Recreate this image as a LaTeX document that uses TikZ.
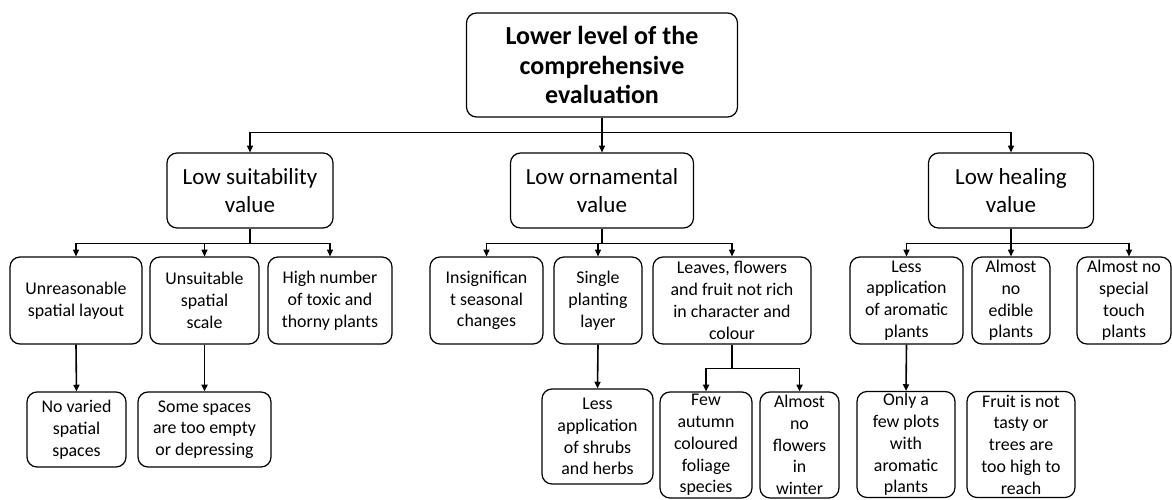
\documentclass[tikz,border=0pt]{standalone}
\usepackage{fontspec}
\setmainfont{Carlito}
\usetikzlibrary{arrows.meta}
\begin{document}
\begin{tikzpicture}[x=0.75pt,y=-0.75pt,
  box/.style={draw,line width=0.9pt,rounded corners=7.5pt,inner sep=0pt,align=center},
  rootbox/.style={box,font=\fontsize{19.5}{21.8}\selectfont\bfseries},
  lone/.style={box,font=\fontsize{17.3}{20.5}\selectfont},
  ltwo/.style={box,font=\fontsize{13.4}{16.3}\selectfont},
  arr/.style={line width=0.9pt,-{Triangle[length=5pt,width=4.5pt]}},
  arrb/.style={line width=1.2pt,-{Triangle[length=5pt,width=4.5pt]}}]
\useasboundingbox (0,0) rectangle (1172,500);
% root
\node[rootbox,minimum width=271*0.75pt,minimum height=104*0.75pt] (root) at (602,65) {Lower level of the\\comprehensive\\evaluation};
% level 1
\node[lone,minimum width=166*0.75pt,minimum height=75*0.75pt] (suit) at (250,190.5) {Low suitability\\value};
\node[lone,minimum width=183*0.75pt,minimum height=75*0.75pt] (orn) at (602,190.5) {Low ornamental\\value};
\node[lone,minimum width=165*0.75pt,minimum height=75*0.75pt] (heal) at (1011,190.5) {Low healing\\value};
% level 2
\node[ltwo,minimum width=132*0.75pt,minimum height=87*0.75pt] (a1) at (76,300.5) {Unreasonable\\spatial layout};
\node[ltwo,minimum width=109*0.75pt,minimum height=87*0.75pt] (a2) at (204.5,300.5) {Unsuitable\\spatial\\scale};
\node[ltwo,minimum width=124*0.75pt,minimum height=87*0.75pt] (a3) at (330,300.5) {High number\\of toxic and\\thorny plants};
\node[ltwo,minimum width=113*0.75pt,minimum height=87*0.75pt] (b1) at (486.5,300.5) {Insignifican\\t seasonal\\changes};
\node[ltwo,minimum width=88*0.75pt,minimum height=87*0.75pt] (b2) at (598,300.5) {Single\\planting\\layer};
\node[ltwo,minimum width=158*0.75pt,minimum height=87*0.75pt] (b3) at (732,300.5) {Leaves, flowers\\and fruit not rich\\in character and\\colour};
\node[ltwo,minimum width=113*0.75pt,minimum height=87*0.75pt] (c1) at (906.5,300.5) {Less\\application\\of aromatic\\plants};
\node[ltwo,minimum width=78*0.75pt,minimum height=87*0.75pt] (c2) at (1011,300.5) {Almost\\no\\edible\\plants};
\node[ltwo,minimum width=94*0.75pt,minimum height=87*0.75pt] (c3) at (1124,300.5) {Almost no\\special\\touch\\plants};
% level 3
\node[ltwo,minimum width=99*0.75pt,minimum height=75*0.75pt] (a1c) at (76.5,429.5) {No varied\\spatial\\spaces};
\node[ltwo,minimum width=133*0.75pt,minimum height=75*0.75pt] (a2c) at (204.5,429.5) {Some spaces\\are too empty\\or depressing};
\node[ltwo,minimum width=111*0.75pt,minimum height=95*0.75pt] (b2c) at (597.5,436.5) {Less\\application\\of shrubs\\and herbs};
\node[ltwo,minimum width=92*0.75pt,minimum height=106*0.75pt] (b3c1) at (706,445) {Few\\autumn\\coloured\\foliage\\species};
\node[ltwo,minimum width=79*0.75pt,minimum height=106*0.75pt] (b3c2) at (799.5,445) {Almost\\no\\flowers\\in\\winter};
\node[ltwo,minimum width=98*0.75pt,minimum height=106*0.75pt] (c1c) at (906,444.5) {Only a\\few plots\\with\\aromatic\\plants};
\node[ltwo,minimum width=108*0.75pt,minimum height=106*0.75pt] (fr) at (1021,444.5) {Fruit is not\\tasty or\\trees are\\too high to\\reach};
% connectors root -> level 1
\draw[arr] (root.south) -- ++(0,15) -| (suit.north);
\draw[arr] (root.south) -- (orn.north);
\draw[arr] (root.south) -- ++(0,15) -| (heal.north);
% level 1 -> level 2
\draw[arr] (suit.south) -- ++(0,15) -| (a1.north);
\draw[arr] (suit.south) -- ++(0,15) -| (a2.north);
\draw[arr] (suit.south) -- ++(0,15) -| (a3.north);
\draw[arr] (orn.south) -- ++(0,15) -| (b1.north);
\draw[arr] (orn.south) -- ++(0,15) -| (b2.north);
\draw[arr] (orn.south) -- ++(0,15) -| (b3.north);
\draw[arr] (heal.south) -- ++(0,15) -| (c1.north);
\draw[arr] (heal.south) -- ++(0,15) -| (c2.north);
\draw[arr] (heal.south) -- ++(0,15) -| ([xshift=3.75pt]c3.north);
% level 2 -> level 3
\draw[arrb] (a1.south) -- (a1c.north);
\draw[arrb] (a2.south) -- (a2c.north);
\draw[arrb] (b2.south) -- (b2c.north);
\draw[arrb] (b3.south) -- ++(0,24) -| (b3c1.north);
\draw[arrb] (b3.south) -- ++(0,24) -| (b3c2.north);
\draw[arrb] (c1.south) -- (c1c.north);
\end{tikzpicture}
\end{document}
